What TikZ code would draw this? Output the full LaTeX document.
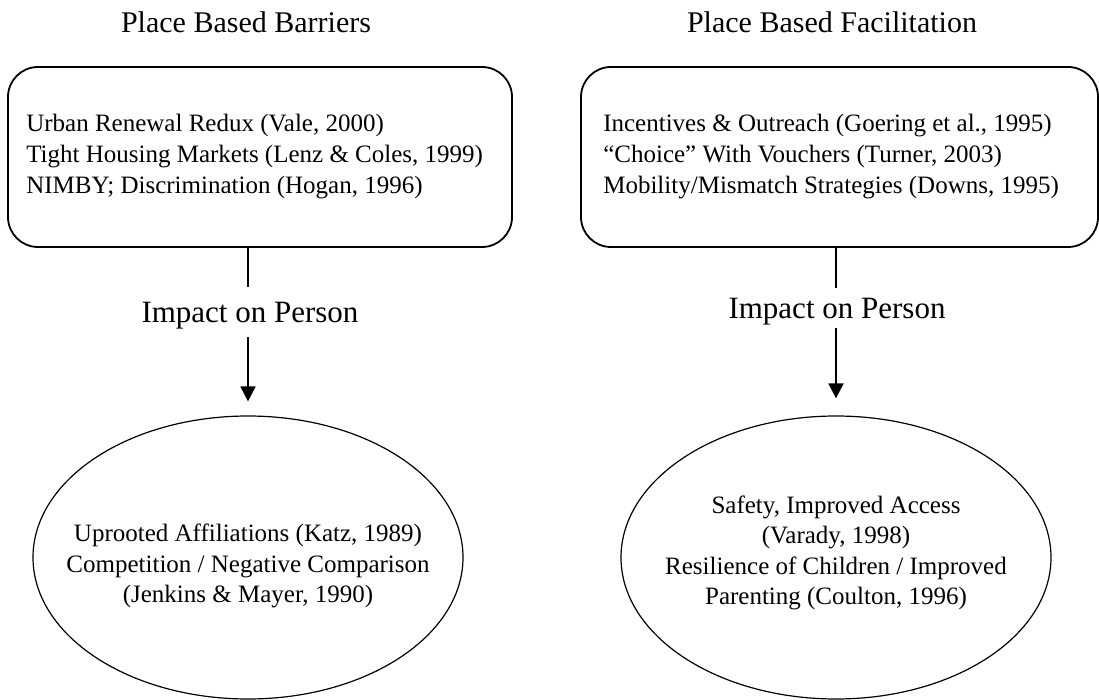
\documentclass[tikz,border=0pt]{standalone}
\usepackage{fontspec}
\setmainfont{Liberation Serif}
\usetikzlibrary{shapes.geometric,arrows.meta}
\begin{document}
\begin{tikzpicture}[x=1pt,y=-1pt,
  heading/.style={font=\fontsize{30}{36}\selectfont, anchor=base, inner sep=0pt},
  listbox/.style={draw, line width=1.8pt, rounded corners=30pt, rectangle,
    minimum height=180pt, inner sep=0pt},
  listtext/.style={anchor=west, align=left, inner sep=0pt,
    font=\fontsize{25}{31}\selectfont},
  outcome/.style={draw, ellipse, line width=1.2pt, inner sep=0pt,
    minimum width=430pt, minimum height=283pt},
  outtext/.style={align=center, inner sep=0pt, font=\fontsize{25}{30.5}\selectfont},
  impact/.style={font=\fontsize{31}{36}\selectfont, anchor=base, inner sep=0pt},
  link/.style={line width=1.8pt},
  flow/.style={line width=1.8pt, -{Triangle[width=15pt,length=15pt]}}
]
\useasboundingbox (0,0) rectangle (1099,700);

% column headings
\node[heading] (h1) at (246,33) {Place Based Barriers};
\node[heading] (h2) at (832,33) {Place Based Facilitation};

% place-based factor boxes
\node[listbox, minimum width=504pt] (b1) at (260,157) {};
\node[listtext] (b1t) at ([xshift=19pt]b1.west)
  {Urban Renewal Redux (Vale, 2000)\\
   Tight Housing Markets (Lenz \& Coles, 1999)\\
   NIMBY; Discrimination (Hogan, 1996)};
\node[listbox, minimum width=517pt] (b2) at (839.5,157) {};
\node[listtext] (b2t) at ([xshift=23pt]b2.west)
  {Incentives \& Outreach (Goering et al., 1995)\\
   “Choice” With Vouchers (Turner, 2003)\\
   Mobility/Mismatch Strategies (Downs, 1995)};

% outcome ellipses
\node[outcome] (e1) at (248,557.5) {};
\node[outtext] (e1t) at (248,566)
  {Uprooted Affiliations (Katz, 1989)\\
   Competition / Negative Comparison\\
   (Jenkins \& Mayer, 1990)};
\node[outcome] (e2) at (836,557.5) {};
\node[outtext] (e2t) at (836,553)
  {Safety, Improved Access\\
   (Varady, 1998)\\
   Resilience of Children / Improved\\
   Parenting (Coulton, 1996)};

% connector labels
\node[impact] (i1) at (250,323) {Impact on Person};
\node[impact] (i2) at (837,318) {Impact on Person};

% connectors
\draw[link, shorten >=15.5pt] (e1.north |- b1.south) -- (e1.north |- i1.north);
\draw[flow, shorten <=7.3pt, shorten >=14pt] (e1.north |- i1.south) -- (e1.north);
\draw[link, shorten >=9.5pt] (e2.north |- b2.south) -- (e2.north |- i2.north);
\draw[flow, shorten <=3.3pt, shorten >=17pt] (e2.north |- i2.south) -- (e2.north);
\end{tikzpicture}
\end{document}
